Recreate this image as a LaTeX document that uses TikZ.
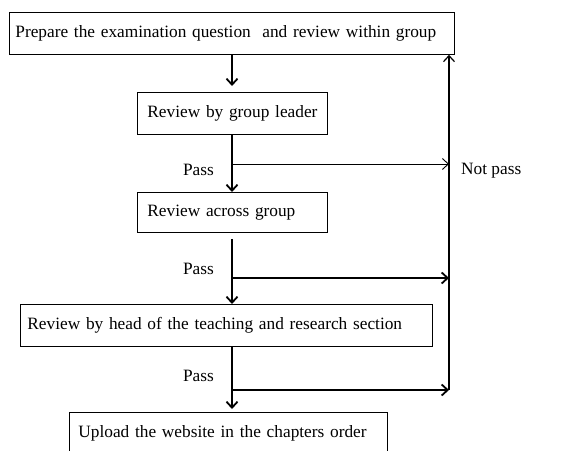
\documentclass[tikz,border=0pt]{standalone}
\usepackage{fontspec}
\setmainfont{Liberation Serif}
\usetikzlibrary{arrows.meta,positioning,calc}

\begin{document}
\begin{tikzpicture}[
  x=1pt, y=-1pt, font=\fontsize{17.3}{20}\selectfont,
  >={Straight Barb[length=6pt,width=11pt]},
  box/.style={draw, line width=0.8pt, anchor=north west, align=left, inner xsep=0pt, inner ysep=0pt, minimum height=42pt},
  flow/.style={->, line width=1.8pt},
  back/.style={->, line width=1.2pt},
  lab/.style={inner sep=0pt}
]
\useasboundingbox (0,0) rectangle (570,450);
\clip (0,0) rectangle (570,450);
% ---------------- boxes
\node[box, text width=445pt] (prep) at (9,12) {\hspace*{6pt}Prepare the examination question \ and review within group};
\node[box, text width=190pt] (leader) at (137,92) {\hspace*{10pt}Review by group leader};
\node[box, text width=190pt, minimum height=40pt] (across) at (137,192) {\hspace*{10pt}Review across group};
\node[box, text width=412pt] (head) at (20,304) {\hspace*{7pt}Review by head of the teaching and research section};
\node[box, text width=318pt, minimum height=60pt, text depth=22pt] (upload) at (69,412) {\hspace*{9pt}Upload the website in the chapters order};
% ---------------- spine and return line
\coordinate (sp) at (232,0);
\coordinate (ret) at (449,0);
\coordinate (j1) at (232,164);
\coordinate (j2) at (232,278);
\coordinate (j3) at (232,390);
% ---------------- labels
\node[lab, anchor=east] (p1) at (214,170) {Pass};
\node[lab, anchor=east] (p2) at (214,269) {Pass};
\node[lab, anchor=east] (p3) at (214,376) {Pass};
\node[lab, anchor=west] (np) at (461,171) {Not pass};
% ---------------- arrows
\draw[flow] (prep.south -| sp) -- ($(leader.north -| sp)+(0,-6)$);
\draw[flow] (leader.south -| sp) -- (across.north -| sp);
\draw[flow, shorten <=6pt] (across.south -| sp) -- (head.north -| sp);
\draw[flow] (head.south -| sp) -- ($(upload.north -| sp)+(0,-3)$);
\draw[->, line width=0.9pt] (j1) -- (j1 -| ret);
\draw[flow] (j2) -- (j2 -| ret);
\draw[flow] (j3) -- (j3 -| ret);
\draw[back] (j3 -| ret) -- (prep.south -| ret);
\end{tikzpicture}
\end{document}
